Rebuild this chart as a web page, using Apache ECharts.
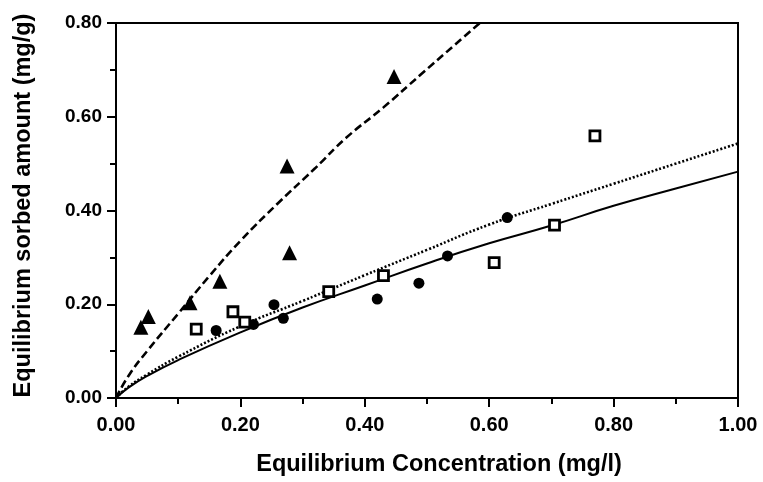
<!DOCTYPE html>
<html>
<head>
<meta charset="utf-8">
<script src="https://cdn.jsdelivr.net/npm/echarts@6/dist/echarts.min.js"></script>
<style>
html, body { margin: 0; padding: 0; background: #fff; }
#chart { width: 763px; height: 482px; }
</style>
</head>
<body>
<div id="chart"></div>
<script>
// measured points
var triangleX = [0.040, 0.052, 0.119, 0.167, 0.275, 0.279, 0.447];
var triangleY = [0.151, 0.174, 0.203, 0.249, 0.495, 0.310, 0.686];
var circleX = [0.161, 0.221, 0.254, 0.269, 0.420, 0.487, 0.533, 0.629];
var circleY = [0.144, 0.157, 0.199, 0.170, 0.211, 0.245, 0.303, 0.385];
var squareX = [0.129, 0.188, 0.207, 0.342, 0.430, 0.608, 0.705, 0.770];
var squareY = [0.147, 0.184, 0.162, 0.227, 0.261, 0.289, 0.369, 0.559];

// fitted curves
var dashedX = [0, 0.02, 0.05, 0.10, 0.15, 0.20, 0.26, 0.32, 0.37, 0.43, 0.49, 0.585];
var dashedY = [0, 0.047, 0.100, 0.180, 0.260, 0.335, 0.415, 0.490, 0.555, 0.620, 0.690, 0.800];
var dottedX = [0, 0.02, 0.05, 0.10, 0.20, 0.30, 0.40, 0.50, 0.60, 0.70, 0.80, 0.90, 1.00];
var dottedY = [0, 0.024, 0.050, 0.088, 0.153, 0.207, 0.262, 0.316, 0.370, 0.414, 0.457, 0.500, 0.543];
var solidX = [0, 0.02, 0.05, 0.10, 0.20, 0.30, 0.40, 0.50, 0.60, 0.70, 0.80, 0.90, 1.00];
var solidY = [0, 0.022, 0.047, 0.081, 0.140, 0.193, 0.240, 0.287, 0.330, 0.368, 0.410, 0.447, 0.483];

var xTitle = 'Equilibrium Concentration (mg/l)';
var yTitle = 'Equilibrium sorbed amount (mg/g)';

function pairs(xs, ys){
	var out = [];
	for (var i = 0; i < xs.length; i++) out.push([xs[i], ys[i]]);
	return out;
}

var font = "'Liberation Sans', Arial, Helvetica, sans-serif";

function lineSerie(xs, ys, dash, width){
	return {
		type: 'line',
		data: pairs(xs, ys),
		smooth: true,
		symbol: 'none',
		z: 2,
		lineStyle: { color: '#000', width: width, type: dash }
	};
}

var myChart = echarts.init(document.getElementById('chart'));
myChart.setOption({
	animation: false,
	backgroundColor: '#fff',
	grid: {
		left: 116, right: 25, top: 23, bottom: 82,
		show: true, borderColor: '#000', borderWidth: 2
	},
	xAxis: {
		type: 'value',
		min: 0, max: 1, interval: 0.2,
		name: xTitle,
		nameLocation: 'middle',
		nameGap: 55,
		nameTextStyle: { fontFamily: font, fontWeight: 'bold', fontSize: 23.5, color: '#000', padding: [0, 0, 0, 24] },
		axisLine: { lineStyle: { color: '#000', width: 2 } },
		axisTick: { inside: false, length: 9, lineStyle: { color: '#000', width: 2 } },
		minorTick: { show: true, splitNumber: 2, length: 6, lineStyle: { color: '#000', width: 2 } },
		splitLine: { show: false },
		axisLabel: {
			margin: 17, fontFamily: font, fontWeight: 'bold', fontSize: 20, color: '#000',
			formatter: function(v){ return v.toFixed(2); }
		}
	},
	yAxis: {
		type: 'value',
		min: 0, max: 0.8, interval: 0.2,
		name: yTitle,
		nameLocation: 'middle',
		nameGap: 80,
		nameTextStyle: { fontFamily: font, fontWeight: 'bold', fontSize: 23.5, color: '#000', padding: [0, 0, 0, 10] },
		axisLine: { lineStyle: { color: '#000', width: 2 } },
		axisTick: { inside: false, length: 9, lineStyle: { color: '#000', width: 2 } },
		minorTick: { show: true, splitNumber: 2, length: 6, lineStyle: { color: '#000', width: 2 } },
		splitLine: { show: false },
		axisLabel: {
			margin: 14, fontFamily: font, fontWeight: 'bold', fontSize: 19, color: '#000',
			formatter: function(v){ return v.toFixed(2); }
		}
	},
	series: [
		lineSerie(dashedX, dashedY, [8, 4], 2.6),
		lineSerie(dottedX, dottedY, [2, 2], 2.6),
		lineSerie(solidX, solidY, 'solid', 2),
		{
			type: 'scatter', data: pairs(triangleX, triangleY), z: 5,
			symbol: 'triangle', symbolSize: 15,
			itemStyle: { color: '#000', opacity: 1 }
		},
		{
			type: 'scatter', data: pairs(circleX, circleY), z: 5,
			symbol: 'circle', symbolSize: 11,
			itemStyle: { color: '#000', opacity: 1 }
		},
		{
			type: 'scatter', data: pairs(squareX, squareY), z: 5,
			symbol: 'rect', symbolSize: 10,
			itemStyle: { color: '#fff', borderColor: '#000', borderWidth: 2.8, opacity: 1 }
		}
	]
});
</script>
</body>
</html>
